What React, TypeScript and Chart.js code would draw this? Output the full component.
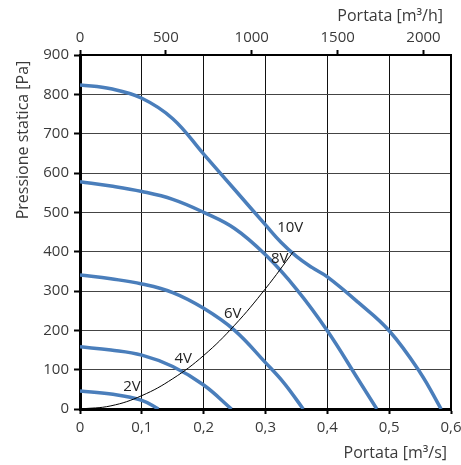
import React, { useEffect, useRef } from 'react';
import { Chart, registerables } from 'chart.js';

Chart.register(...registerables);

// Fan curves: static pressure [Pa] against flow [m³/s] for each control voltage
const flow10V = [0, 0.05, 0.1, 0.15, 0.2, 0.25, 0.3, 0.325, 0.35, 0.375, 0.4, 0.45, 0.5, 0.55, 0.584];
const pressure10V = [824, 814, 790, 738, 648, 558, 468, 424, 388, 360, 336, 271, 199, 93, 0];

const flow8V = [0, 0.05, 0.1, 0.15, 0.2, 0.25, 0.3, 0.35, 0.4, 0.45, 0.48];
const pressure8V = [578, 567, 553, 533, 500, 459, 392, 305, 199, 75, 0];

const flow6V = [0, 0.05, 0.1, 0.15, 0.2, 0.25, 0.3, 0.33, 0.361];
const pressure6V = [341, 331, 318, 296, 256, 200, 118, 66, 0];

const flow4V = [0, 0.05, 0.1, 0.15, 0.2, 0.245];
const pressure4V = [158, 150, 137, 108, 61, 0];

const flow2V = [0, 0.05, 0.1, 0.127];
const pressure2V = [46, 38, 22, 0];

// System resistance curve
const systemFlow = [0, 0.05, 0.1, 0.15, 0.2, 0.25, 0.3, 0.345];
const systemPressure = [0, 8, 34, 77, 136, 213, 306, 400];

// Voltage labels placed next to their curves
const curveLabels = ['10V', '8V', '6V', '4V', '2V'];
const labelFlow = [0.34, 0.323, 0.247, 0.167, 0.084];
const labelPressure = [462, 382, 242, 127, 57];

const flowMax = 0.6; // m³/s
const flowStep = 0.1;
const hourlyMax = flowMax * 3600; // m³/h
const hourlyTicks = [0, 500, 1000, 1500, 2000];
const pressureMax = 900;
const pressureStep = 100;

const curveColor = '#4A7EBB';
const textColor = '#3a3a3a';
const fontFamily = '"Open Sans", "DejaVu Sans", sans-serif';

const toPoints = (xs: number[], ys: number[]) => xs.map((x, i) => ({ x, y: ys[i] }));

const fanCurve = (xs: number[], ys: number[]) => ({
  data: toPoints(xs, ys),
  borderColor: curveColor,
  borderWidth: 3.5,
  pointRadius: 0,
  tension: 0.4,
  fill: false,
  order: 1,
});

const annotate = {
  id: 'annotate',
  afterDraw(chart: any) {
    const { ctx, chartArea: a, scales } = chart;
    ctx.save();
    // right edge of the frame
    ctx.strokeStyle = '#000';
    ctx.lineWidth = 2;
    ctx.beginPath();
    ctx.moveTo(a.right, a.top);
    ctx.lineTo(a.right, a.bottom);
    ctx.stroke();

    // voltage labels
    ctx.fillStyle = '#222';
    ctx.font = `15px ${fontFamily}`;
    ctx.textAlign = 'center';
    ctx.textBaseline = 'middle';
    curveLabels.forEach((t, i) => {
      ctx.fillText(t, scales.x.getPixelForValue(labelFlow[i]), scales.y.getPixelForValue(labelPressure[i]));
    });

    // axis titles
    ctx.fillStyle = textColor;
    ctx.font = `16px ${fontFamily}`;
    ctx.textAlign = 'right';
    ctx.fillText('Portata [m³/h]', a.right - 8, 16);
    ctx.fillText('Portata [m³/s]', a.right - 4, 453);
    ctx.translate(23, 140);
    ctx.rotate(-Math.PI / 2);
    ctx.textAlign = 'center';
    ctx.fillText('Pressione statica [Pa]', 0, 0);
    ctx.restore();
  },
};

const tickFont = { family: fontFamily, size: 15 };

export default function App() {
  const canvasRef = useRef<HTMLCanvasElement | null>(null);

  useEffect(() => {
    if (!canvasRef.current) return;
    const chart = new Chart(canvasRef.current, {
      type: 'line',
      data: {
        datasets: [
          {
            data: toPoints(systemFlow, systemPressure),
            borderColor: '#000',
            borderWidth: 1,
            pointRadius: 0,
            tension: 0.4,
            fill: false,
            order: 0,
          },
          fanCurve(flow10V, pressure10V),
          fanCurve(flow8V, pressure8V),
          fanCurve(flow6V, pressure6V),
          fanCurve(flow4V, pressure4V),
          fanCurve(flow2V, pressure2V),
        ] as any,
      },
      options: {
        responsive: false,
        animation: false,
        devicePixelRatio: 1,
        layout: { padding: { left: 0, right: 10, top: 0, bottom: 0 } },
        plugins: { legend: { display: false }, tooltip: { enabled: false } },
        scales: {
          x: {
            type: 'linear',
            position: 'bottom',
            min: 0,
            max: flowMax,
            ticks: {
              stepSize: flowStep,
              autoSkip: false,
              maxRotation: 0,
              color: textColor,
              font: tickFont,
              padding: 5,
              callback: (v: any) => (Number(v) === 0 ? '0' : Number(v).toFixed(1).replace('.', ',')),
            },
            grid: { color: '#111', lineWidth: 1, tickLength: 5, tickColor: '#000', tickWidth: 2 },
            border: { color: '#000', width: 3 },
            afterFit: (s: any) => {
              s.height = 56;
              s.paddingLeft = 0;
              s.paddingRight = 0;
            },
          },
          x2: {
            type: 'linear',
            position: 'top',
            min: 0,
            max: hourlyMax,
            afterBuildTicks: (s: any) => {
              s.ticks = hourlyTicks.map((value) => ({ value }));
            },
            ticks: {
              autoSkip: false,
              maxRotation: 0,
              color: textColor,
              font: tickFont,
              padding: 3,
              callback: (v: any) => String(v),
            },
            grid: { drawOnChartArea: false, tickLength: 5, tickColor: '#000', tickWidth: 2 },
            border: { color: '#000', width: 2 },
            afterFit: (s: any) => {
              s.height = 55;
              s.paddingLeft = 0;
              s.paddingRight = 0;
            },
          },
          y: {
            type: 'linear',
            min: 0,
            max: pressureMax,
            ticks: { stepSize: pressureStep, color: textColor, font: tickFont, padding: 5 },
            grid: { color: '#444', lineWidth: 1, tickLength: 6, tickColor: '#000', tickWidth: 2 },
            border: { color: '#000', width: 3 },
            afterFit: (s: any) => {
              s.width = 80;
              s.paddingTop = 0;
              s.paddingBottom = 0;
            },
          },
        },
      } as any,
      plugins: [annotate],
    });
    return () => chart.destroy();
  }, []);

  return (
    <div style={{ position: 'fixed', left: 0, top: 0, width: 461, height: 465, background: '#fff' }}>
      <canvas ref={canvasRef} width={461} height={465} />
    </div>
  );
}
